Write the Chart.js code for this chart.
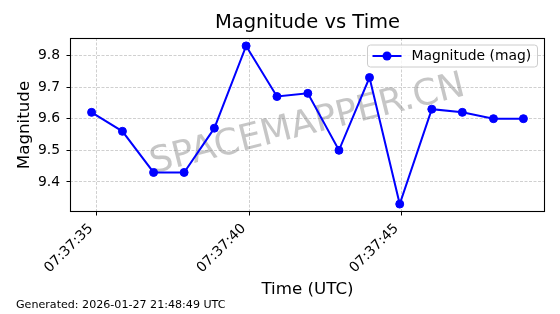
<!DOCTYPE html>
<html><head><meta charset="utf-8">
<script src="https://cdn.jsdelivr.net/npm/chart.js@4.4.1/dist/chart.umd.min.js"></script>
<style>html,body{margin:0;padding:0;background:#fff;overflow:hidden}#wrap{width:560px;height:314px;position:relative}</style>
</head><body><div id="wrap"><canvas id="c" width="560" height="314"></canvas></div>
<script>
const times = ["07:37:34.84","07:37:35.85","07:37:36.87","07:37:37.87","07:37:38.86","07:37:39.90","07:37:40.91","07:37:41.92","07:37:42.94","07:37:43.94","07:37:44.93","07:37:45.98","07:37:46.98","07:37:48.00","07:37:48.98"];
const magnitudes = [9.62,9.56,9.43,9.43,9.57,9.83,9.67,9.68,9.50,9.73,9.33,9.63,9.62,9.60,9.60];
const xTickLabels = ["07:37:35","07:37:40","07:37:45"];
const yTicks = [9.4,9.5,9.6,9.7,9.8];
const seriesLabel = "Magnitude (mag)";
const titleText = "Magnitude vs Time";
const xTitle = "Time (UTC)";
const yTitle = "Magnitude";
const watermark = "SPACEMAPPER.CN";
const footer = "Generated: 2026-01-27 21:48:49 UTC";

const FONT = "'DejaVu Sans', sans-serif";
Chart.defaults.font.family = FONT;
Chart.defaults.color = '#000';

function toSec(s){const p=s.split(':');return (+p[0])*3600+(+p[1])*60+(+p[2]);}
function fmt(v){const t=Math.round(v);const h=Math.floor(t/3600),m=Math.floor((t%3600)/60),s=t%60;const z=n=>String(n).padStart(2,'0');return z(h)+':'+z(m)+':'+z(s);}

const xs = times.map(toSec);
const xMinD=Math.min(...xs), xMaxD=Math.max(...xs), xr=xMaxD-xMinD;
const yMinD=Math.min(...magnitudes), yMaxD=Math.max(...magnitudes), yr=yMaxD-yMinD;
const xTickVals = xTickLabels.map(toSec);

const extras = {
  id:'extras',
  beforeDatasetsDraw(chart){
    const {ctx, chartArea:a} = chart;
    ctx.save();
    ctx.translate((a.left+a.right)/2,(a.top+a.bottom)/2);
    ctx.rotate(-14*Math.PI/180);
    ctx.font = "36px "+FONT;
    ctx.fillStyle='rgba(128,128,128,0.45)';
    ctx.textAlign='center'; ctx.textBaseline='middle';
    ctx.fillText(watermark,0,0);
    ctx.restore();
  },
  afterDraw(chart){
    const {ctx, chartArea:a} = chart;
    ctx.save();
    // title
    ctx.fillStyle='#000';ctx.font="19.5px "+FONT;ctx.textAlign='center';ctx.textBaseline='alphabetic';
    ctx.fillText(titleText,(a.left+a.right)/2,27.5);
    // frame
    ctx.strokeStyle='#000'; ctx.lineWidth=1.1;
    ctx.strokeRect(a.left+0.5,a.top+0.5,a.right-a.left-1,a.bottom-a.top-1);
    // legend
    const ds = chart.data.datasets[0];
    const bx=a.right-177.5, by=a.top+7, bw=170, bh=22, r=3;
    ctx.beginPath();
    ctx.moveTo(bx+r,by);ctx.lineTo(bx+bw-r,by);ctx.quadraticCurveTo(bx+bw,by,bx+bw,by+r);
    ctx.lineTo(bx+bw,by+bh-r);ctx.quadraticCurveTo(bx+bw,by+bh,bx+bw-r,by+bh);
    ctx.lineTo(bx+r,by+bh);ctx.quadraticCurveTo(bx,by+bh,bx,by+bh-r);
    ctx.lineTo(bx,by+r);ctx.quadraticCurveTo(bx,by,bx+r,by);ctx.closePath();
    ctx.fillStyle='rgba(255,255,255,0.8)';ctx.fill();
    ctx.strokeStyle='#cccccc';ctx.lineWidth=1;ctx.stroke();
    const ly=by+bh/2;
    ctx.strokeStyle=ds.borderColor;ctx.lineWidth=2;
    ctx.beginPath();ctx.moveTo(bx+5,ly);ctx.lineTo(bx+34,ly);ctx.stroke();
    ctx.fillStyle=ds.backgroundColor;ctx.beginPath();ctx.arc(bx+19.5,ly,4.5,0,Math.PI*2);ctx.fill();
    ctx.fillStyle='#000';ctx.font="13.9px "+FONT;ctx.textAlign='left';ctx.textBaseline='middle';
    ctx.fillText(ds.label,bx+44,ly+0.5);
    // footer
    ctx.font="11.1px "+FONT;ctx.fillStyle='#000';ctx.textBaseline='middle';
    ctx.fillText(footer,16,305);
    ctx.restore();
  }
};

new Chart(document.getElementById('c'),{
  type:'line',
  data:{datasets:[{
    label:seriesLabel,
    data:xs.map((x,i)=>({x:x,y:magnitudes[i]})),
    borderColor:'#0000ff', backgroundColor:'#0000ff',
    borderWidth:2, pointRadius:4, pointBorderWidth:1, pointHoverRadius:4, tension:0
  }]},
  options:{
    responsive:false, animation:false, devicePixelRatio:1,
    layout:{padding:{left:0,right:15,top:38,bottom:0}},
    plugins:{
      legend:{display:false}, tooltip:{enabled:false}, title:{display:false}
    },
    scales:{
      x:{type:'linear',min:xMinD-0.05*xr,max:xMaxD+0.05*xr,
        afterBuildTicks(s){s.ticks=xTickVals.map(v=>({value:v}));},
        afterFit(s){s.height=102;},
        ticks:{callback:v=>fmt(v),autoSkip:false,minRotation:45,maxRotation:45,padding:5,labelOffset:-5.5,font:{size:13.9},color:'#000'},
        grid:{color:'rgba(176,176,176,0.6)',tickColor:'#000',tickLength:3.5,tickWidth:1,tickBorderDash:[]},
        border:{display:false,dash:[3,1.5]},
        title:{display:true,text:xTitle,font:{size:16.7},color:'#000',padding:{top:0,bottom:14}}
      },
      y:{type:'linear',min:yMinD-0.05*yr,max:yMaxD+0.05*yr,
        afterBuildTicks(s){s.ticks=yTicks.map(v=>({value:v}));},
        afterFit(s){s.width=70;},
        ticks:{callback:v=>v.toFixed(1),padding:6.5,font:{size:13.9},color:'#000'},
        grid:{color:'rgba(176,176,176,0.6)',tickColor:'#000',tickLength:3.5,tickWidth:1,tickBorderDash:[]},
        border:{display:false,dash:[3,1.5]},
        title:{display:true,text:yTitle,font:{size:16.7},color:'#000',padding:{top:15,bottom:0}}
      }
    }
  },
  plugins:[extras]
});
</script></body></html>
